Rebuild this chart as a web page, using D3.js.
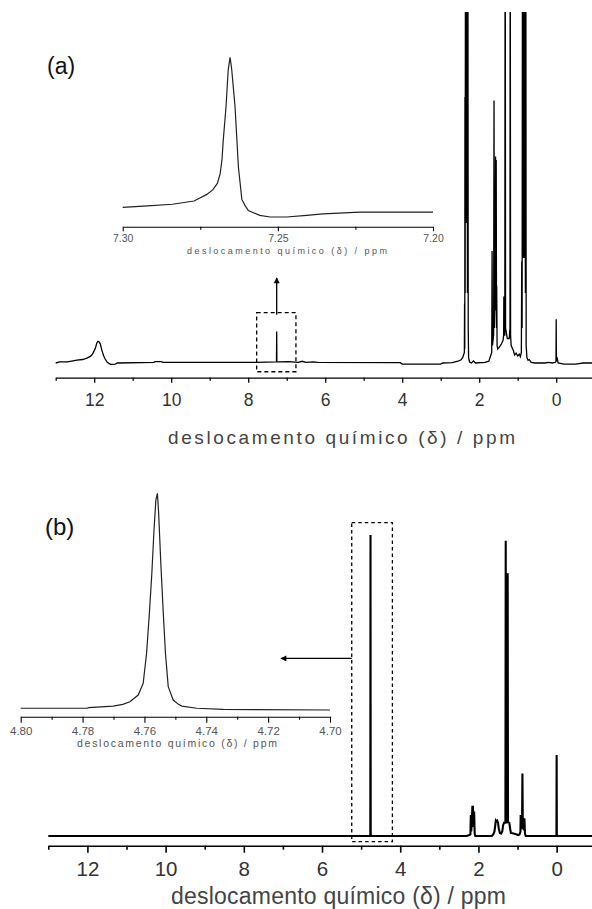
<!DOCTYPE html>
<html>
<head>
<meta charset="utf-8">
<script src="https://cdn.jsdelivr.net/npm/d3@7"></script>
<style>
  body { margin: 0; background: #fff; }
  svg { display: block; font-family: "Liberation Sans", Arial, sans-serif; }
</style>
</head>
<body>
<div class="chart"></div>
<script>
// spectrum (a), [ppm, intensity] - tall lines go off the top of the frame
const spectrumA = [
  [13.00, 0.0], [12.90, 0.3], [12.70, 0.3], [12.55, 0.6], [12.45, 0.8], [12.30, 1.0],
  [12.19, 1.4], [12.10, 1.9], [12.04, 2.6], [11.97, 4.2], [11.93, 5.8], [11.90, 6.2],
  [11.87, 6.0], [11.84, 5.4], [11.80, 3.6], [11.76, 2.2], [11.72, 1.2], [11.66, 0.2],
  [11.58, -0.4], [11.45, -0.3], [11.40, 0.0], [10.45, 0.2], [10.42, 0.4], [10.25, 0.4],
  [10.22, 0.2], [7.80, 0.2], [7.28, 0.3], [7.265, 0.3], [7.26, 9.0], [7.255, 0.3],
  [7.20, 0.3], [6.95, 0.4], [6.70, 0.2], [6.60, 0.5], [6.50, 0.2], [6.30, 0.3],
  [6.20, 0.2], [4.05, 0.1], [4.00, -0.3], [3.40, -0.3], [3.00, -0.3], [2.95, 0.0],
  [2.70, 0.1], [2.55, 0.5], [2.47, 0.9], [2.43, 1.5], [2.40, 2.5],
  [2.385, 3], [2.38, 17], [2.375, 4], [2.37, 76], [2.365, 20], [2.355, 150],
  [2.345, 40], [2.335, 150], [2.325, 40], [2.315, 150], [2.305, 20], [2.295, 150],
  [2.285, 10], [2.275, 1.5], [2.25, 0.3], [2.20, 0.0], [2.15, 0.6], [2.10, 0.0],
  [1.85, 0.2], [1.75, 0.5], [1.72, 1.5], [1.69, 2.5],
  [1.675, 3], [1.665, 32], [1.655, 5], [1.625, 8], [1.615, 75], [1.605, 10],
  [1.585, 20], [1.575, 59], [1.565, 15], [1.558, 58], [1.55, 10], [1.545, 22],
  [1.535, 5], [1.52, 4], [1.48, 4.5], [1.42, 5.5], [1.38, 6.5], [1.365, 8],
  [1.36, 19], [1.355, 8], [1.335, 8], [1.325, 150], [1.315, 10], [1.27, 7],
  [1.22, 7], [1.20, 10], [1.195, 150], [1.185, 8], [1.17, 5], [1.13, 4],
  [1.11, 3.5], [1.08, 2.3], [1.04, 2.8], [1.00, 2.0], [0.96, 2.5], [0.93, 1.8],
  [0.905, 3], [0.895, 29], [0.885, 10], [0.875, 150], [0.86, 30], [0.845, 150],
  [0.83, 30], [0.815, 150], [0.80, 20], [0.79, 150], [0.78, 5], [0.76, 1.5],
  [0.73, 0.8], [0.70, 1.0], [0.65, 0.2], [0.55, 0.0], [0.30, 0.0], [0.20, 0.2],
  [0.10, 0.0], [0.02, 0.2], [0.005, 0.5], [0.0, 12.5], [-0.005, 0.5], [-0.03, 1.2],
  [-0.05, 0.0], [-0.20, -0.3], [-0.50, -0.3], [-0.70, 0.0], [-0.93, 0.0],
];

// zoom of the 7.26 ppm line
const insetA = [
  [7.300, 6], [7.292, 7], [7.284, 8], [7.277, 10], [7.275, 12], [7.273, 14], [7.271, 17],
  [7.2695, 21], [7.2686, 27], [7.2680, 36], [7.2676, 48], [7.2667, 69], [7.2660, 92],
  [7.2654, 100], [7.2649, 93], [7.2643, 80], [7.2638, 69], [7.2627, 31], [7.2616, 11],
  [7.2605, 7], [7.2595, 4], [7.2558, 1], [7.2525, 0], [7.2472, 0], [7.2407, 1],
  [7.2355, 2], [7.2235, 3], [7.2139, 3], [7.200, 3],
];

// spectrum (b)
const spectrumB = [
  [13.0, 0], [5.0, 0], [4.775, 0], [4.765, 0.6], [4.76, 100], [4.755, 0.6],
  [4.745, 0], [2.30, 0], [2.23, 0.3], [2.205, 0.6], [2.195, 7.0], [2.185, 1.5],
  [2.17, 4], [2.155, 9.7], [2.14, 9.7], [2.125, 3], [2.11, 8.1], [2.095, 0.6],
  [2.08, 0], [1.66, 0], [1.62, 0.5], [1.59, 1.5], [1.57, 3.5], [1.555, 5.1],
  [1.54, 4.8], [1.52, 5.1], [1.50, 4.5], [1.48, 2.5], [1.45, 1.0], [1.42, 0.8],
  [1.39, 1.5], [1.37, 3.5], [1.345, 4.4], [1.31, 4.4], [1.302, 98.1], [1.294, 4.6],
  [1.26, 4.6], [1.252, 87.3], [1.244, 4.5], [1.21, 4.4], [1.19, 2.5], [1.17, 1.0],
  [1.10, 0.8], [1.04, 0.6], [0.98, 0.3], [0.95, 0.5], [0.925, 1.5], [0.92, 7.0],
  [0.91, 2.5], [0.885, 3], [0.875, 20.8], [0.865, 3], [0.84, 2], [0.825, 5.9],
  [0.81, 0.8], [0.79, 0], [0.02, 0], [0.005, 0.3], [0.0, 26.9], [-0.005, 0.3],
  [-0.02, 0], [-0.93, 0],
];

// zoom of the 4.76 ppm line
const insetB = [
  [4.800, 0.8], [4.7785, 0.8], [4.778, 1.1], [4.7701, 1.8], [4.7670, 2.6], [4.7647, 3.8],
  [4.7620, 6.9], [4.7604, 12.3], [4.7593, 26.2], [4.7584, 44.6], [4.7576, 63.1],
  [4.7569, 83.1], [4.7563, 96.9], [4.7558, 100], [4.7554, 90.8], [4.7547, 67.7],
  [4.7539, 44.6], [4.7532, 26.2], [4.7523, 10.8], [4.7507, 4.6], [4.7490, 2.6],
  [4.7479, 1.8], [4.7431, 0.8], [4.7345, 0.3], [4.700, 0],
];

const ticksMain = [12, 10, 8, 6, 4, 2, 0];
const ticksMainMinor = [13, 11, 9, 7, 5, 3, 1];
const ticksInsetA = [7.30, 7.25, 7.20];
const ticksInsetAMinor = [7.275, 7.225];
const ticksInsetB = [4.80, 4.78, 4.76, 4.74, 4.72, 4.70];
const ticksInsetBMinor = [4.79, 4.77, 4.75, 4.73, 4.71];

const axisTitle = 'deslocamento químico (δ) / ppm';

const width = 592, height = 909;

const svg = d3.select('.chart').append('svg')
  .attr('width', width)
  .attr('height', height);

svg.append('defs').append('clipPath')
  .attr('id', 'clipA')
  .append('rect')
  .attr('x', 0).attr('y', 12).attr('width', width).attr('height', 380);

const marker = svg.select('defs').append('marker')
  .attr('id', 'head')
  .attr('viewBox', '0 0 10 10')
  .attr('refX', 9).attr('refY', 5)
  .attr('markerWidth', 7).attr('markerHeight', 6)
  .attr('markerUnits', 'userSpaceOnUse')
  .attr('orient', 'auto');
marker.append('path').attr('d', 'M0,0 L10,5 L0,10 Z').attr('fill', '#000');

// scales
const xA = d3.scaleLinear().domain([13, -0.93]).range([55.7, 592]);
const yA = d3.scaleLinear().domain([0, 100]).range([363, 13]);
const xB = d3.scaleLinear().domain([13, -0.93]).range([48.3, 593]);
const yB = d3.scaleLinear().domain([0, 100]).range([836, 535]);
const xIA = d3.scaleLinear().domain([7.30, 7.20]).range([122.7, 433]);
const yIA = d3.scaleLinear().domain([0, 100]).range([217, 57.3]);
const xIB = d3.scaleLinear().domain([4.80, 4.70]).range([20.7, 330]);
const yIB = d3.scaleLinear().domain([0, 100]).range([710, 493.3]);

function drawLine(data, x, y, w, color, clip) {
  const line = d3.line()
    .x((d) => x(d[0]))
    .y((d) => y(d[1]));
  const p = svg.append('path')
    .datum(data)
    .attr('d', line)
    .attr('fill', 'none')
    .attr('stroke', color)
    .attr('stroke-width', w)
    .attr('stroke-linejoin', 'miter');
  if (clip) p.attr('clip-path', 'url(#' + clip + ')');
}

// axis with long ticks on the labelled values and short ones between
function ppmAxis(x, y0, major, minor, o) {
  const gMinor = svg.append('g')
    .attr('transform', 'translate(0,' + y0 + ')')
    .call(d3.axisBottom(x).tickValues(minor).tickSize(o.minor).tickSizeOuter(0).tickFormat(''));
  gMinor.select('.domain').remove();
  gMinor.selectAll('line').attr('stroke', '#000').attr('stroke-width', o.sw);

  const gMajor = svg.append('g')
    .attr('transform', 'translate(0,' + y0 + ')')
    .call(d3.axisBottom(x).tickValues(major).tickSize(o.major).tickSizeOuter(0)
      .tickPadding(o.pad).tickFormat(o.fmt));
  gMajor.select('.domain').attr('stroke', '#000').attr('stroke-width', o.sw);
  gMajor.selectAll('line').attr('stroke', '#000').attr('stroke-width', o.sw);
  gMajor.selectAll('text')
    .attr('fill', o.color)
    .style('font-size', o.size + 'px')
    .style('font-family', '"Liberation Sans", Arial, sans-serif');
}

function label(text, x, y, size, color, len) {
  const t = svg.append('text')
    .attr('x', x).attr('y', y)
    .attr('fill', color)
    .style('font-size', size + 'px')
    .text(text);
  if (len) t.attr('textLength', len).attr('lengthAdjust', 'spacing');
}

// ---- panel (a)
drawLine(spectrumA, xA, yA, 1.3, '#000', 'clipA');
ppmAxis(xA, 377.7, ticksMain, ticksMainMinor,
  { major: 5, minor: 3, pad: 10.5, sw: 1.3, size: 17.5, color: '#333', fmt: d3.format('d') });
label(axisTitle, 168, 443.5, 19, '#444', 347);
label('(a)', 47, 74, 23, '#111');

svg.append('rect')
  .attr('x', xA(7.78)).attr('y', yA(14.4))
  .attr('width', xA(6.76) - xA(7.78)).attr('height', yA(-2.5) - yA(14.4))
  .attr('fill', 'none').attr('stroke', '#000').attr('stroke-width', 1.3)
  .attr('stroke-dasharray', '4,3');
svg.append('line')
  .attr('x1', xA(7.26)).attr('x2', xA(7.26))
  .attr('y1', yA(13.8)).attr('y2', yA(24.3))
  .attr('stroke', '#000').attr('stroke-width', 1.3)
  .attr('marker-end', 'url(#head)');

drawLine(insetA, xIA, yIA, 1.2, '#222');
ppmAxis(xIA, 226.7, ticksInsetA, ticksInsetAMinor,
  { major: 4.5, minor: 3, pad: 3.5, sw: 1.1, size: 10.5, color: '#555', fmt: d3.format('.2f') });
label(axisTitle, 187, 253.7, 9, '#555', 200);

// ---- panel (b)
drawLine(spectrumB, xB, yB, 2.1, '#000');
ppmAxis(xB, 845.7, ticksMain, ticksMainMinor,
  { major: 7, minor: 4, pad: 8.4, sw: 1.6, size: 20.5, color: '#333', fmt: d3.format('d') });
label(axisTitle, 171, 904, 23, '#444', 335);
label('(b)', 45, 535, 24, '#111');

svg.append('rect')
  .attr('x', xB(5.24)).attr('y', yB(104.1))
  .attr('width', xB(4.20) - xB(5.24)).attr('height', yB(-1.9) - yB(104.1))
  .attr('fill', 'none').attr('stroke', '#000').attr('stroke-width', 1.3)
  .attr('stroke-dasharray', '3.5,3');
svg.append('line')
  .attr('x1', xB(5.24)).attr('x2', xB(7.05))
  .attr('y1', yB(59)).attr('y2', yB(59))
  .attr('stroke', '#000').attr('stroke-width', 1.3)
  .attr('marker-end', 'url(#head)');

drawLine(insetB, xIB, yIB, 1.2, '#222');
ppmAxis(xIB, 716.7, ticksInsetB, ticksInsetBMinor,
  { major: 6, minor: 3, pad: 3.8, sw: 1.1, size: 11.5, color: '#555', fmt: d3.format('.2f') });
label(axisTitle, 77, 746.5, 10.5, '#555', 200);
</script>
</body>
</html>
